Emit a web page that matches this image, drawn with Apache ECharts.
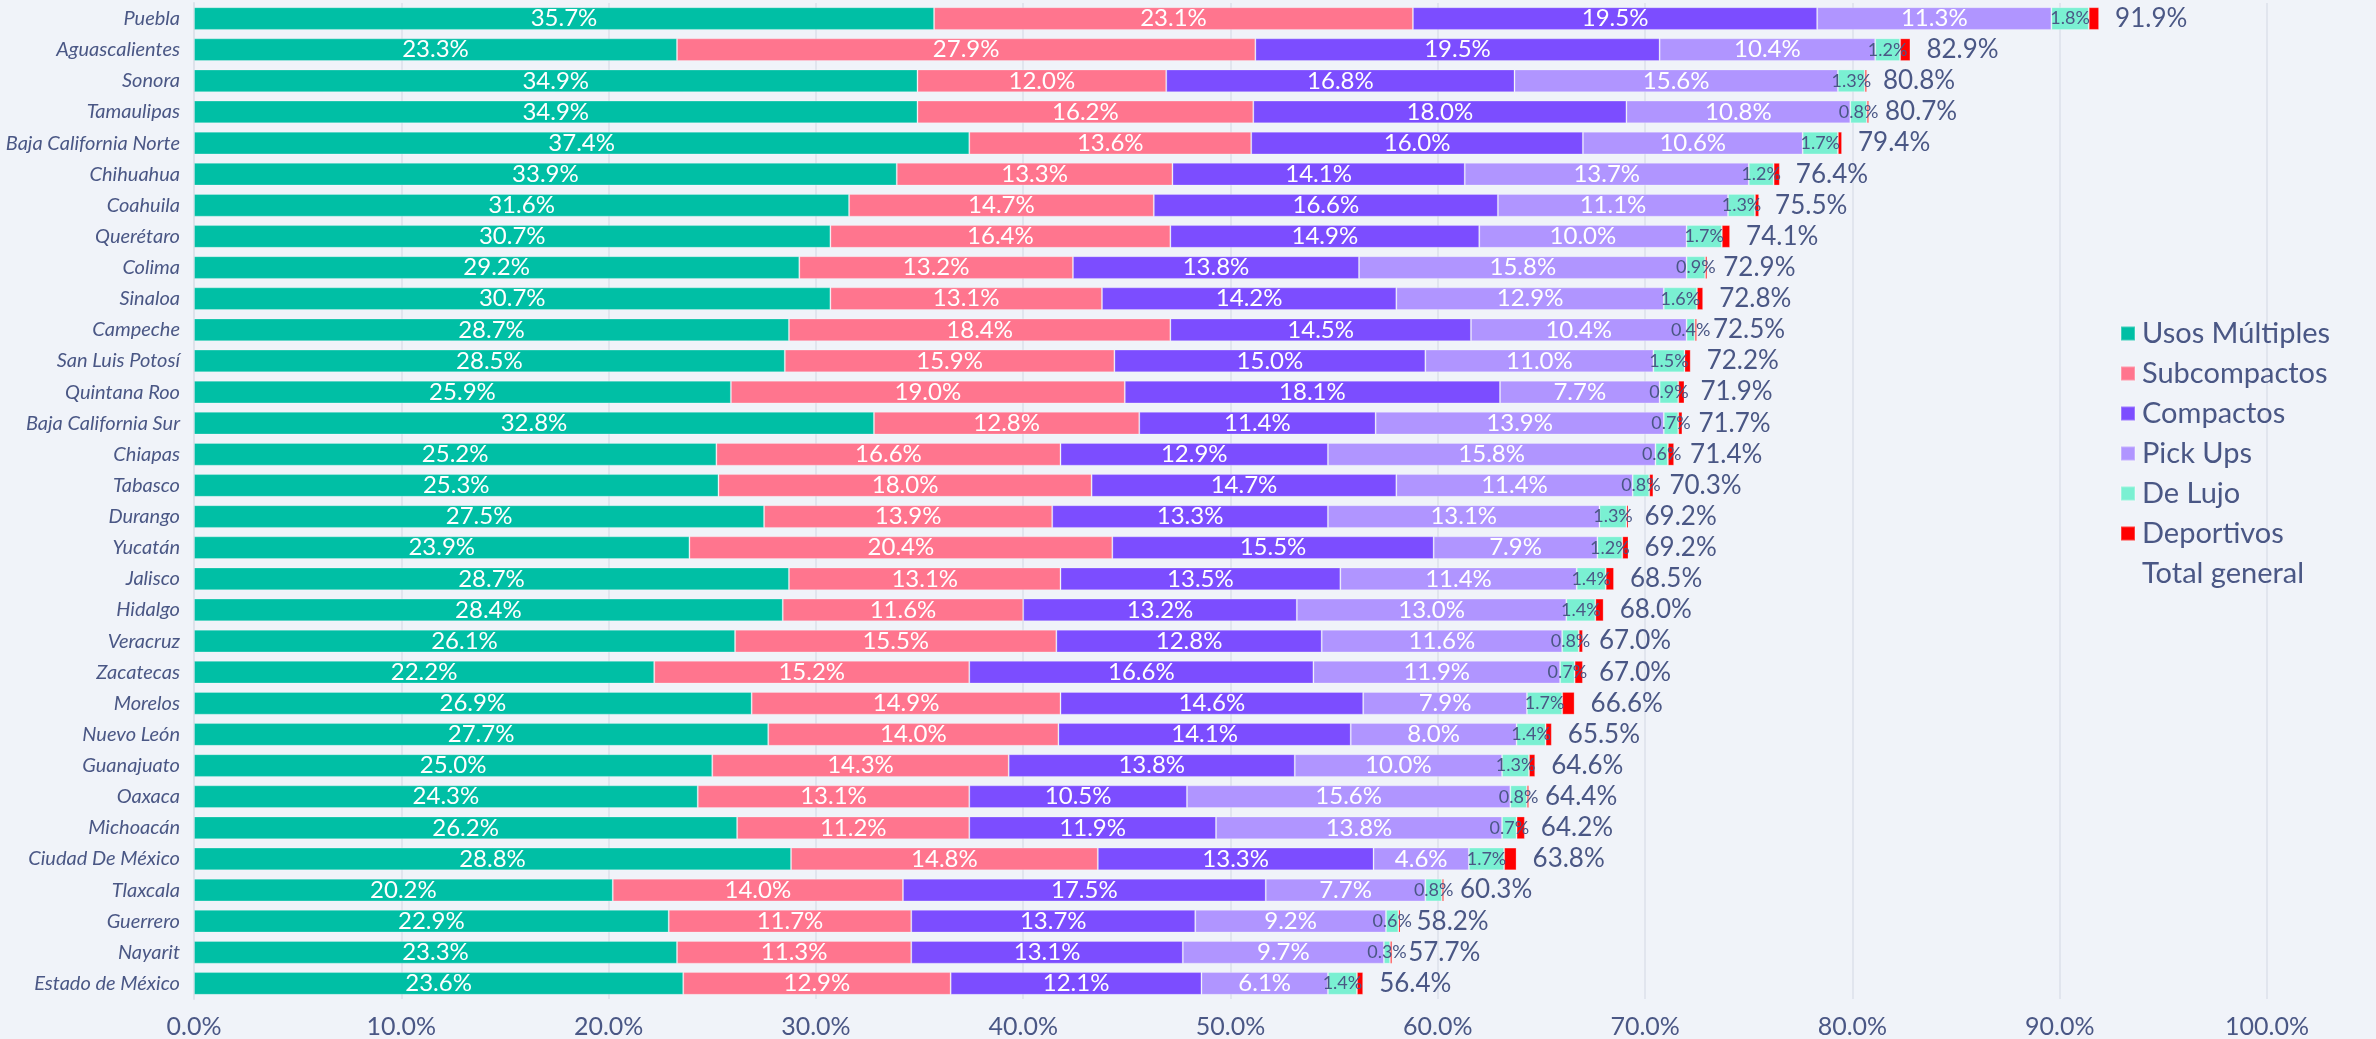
<!DOCTYPE html>
<html>
<head>
<meta charset="utf-8">
<script src="https://cdn.jsdelivr.net/npm/echarts@6/dist/echarts.min.js"></script>
<style>
  html, body { margin: 0; padding: 0; background: #f0f3f9; }
  #chart { width: 2376px; height: 1039px; }
</style>
</head>
<body>
<div id="chart"></div>
<script>
// estados, de arriba hacia abajo
const estados = ['Puebla', 'Aguascalientes', 'Sonora', 'Tamaulipas', 'Baja California Norte', 'Chihuahua',
  'Coahuila', 'Querétaro', 'Colima', 'Sinaloa', 'Campeche', 'San Luis Potosí', 'Quintana Roo',
  'Baja California Sur', 'Chiapas', 'Tabasco', 'Durango', 'Yucatán', 'Jalisco', 'Hidalgo', 'Veracruz',
  'Zacatecas', 'Morelos', 'Nuevo León', 'Guanajuato', 'Oaxaca', 'Michoacán', 'Ciudad De México',
  'Tlaxcala', 'Guerrero', 'Nayarit', 'Estado de México']

const usosMultiples = [35.7, 23.3, 34.9, 34.9, 37.4, 33.9, 31.6, 30.7, 29.2, 30.7, 28.7, 28.5, 25.9, 32.8, 25.2, 25.3,
  27.5, 23.9, 28.7, 28.4, 26.1, 22.2, 26.9, 27.7, 25.0, 24.3, 26.2, 28.8, 20.2, 22.9, 23.3, 23.6]
const subcompactos = [23.1, 27.9, 12.0, 16.2, 13.6, 13.3, 14.7, 16.4, 13.2, 13.1, 18.4, 15.9, 19.0, 12.8, 16.6, 18.0,
  13.9, 20.4, 13.1, 11.6, 15.5, 15.2, 14.9, 14.0, 14.3, 13.1, 11.2, 14.8, 14.0, 11.7, 11.3, 12.9]
const compactos = [19.5, 19.5, 16.8, 18.0, 16.0, 14.1, 16.6, 14.9, 13.8, 14.2, 14.5, 15.0, 18.1, 11.4, 12.9, 14.7,
  13.3, 15.5, 13.5, 13.2, 12.8, 16.6, 14.6, 14.1, 13.8, 10.5, 11.9, 13.3, 17.5, 13.7, 13.1, 12.1]
const pickUps = [11.3, 10.4, 15.6, 10.8, 10.6, 13.7, 11.1, 10.0, 15.8, 12.9, 10.4, 11.0, 7.7, 13.9, 15.8, 11.4,
  13.1, 7.9, 11.4, 13.0, 11.6, 11.9, 7.9, 8.0, 10.0, 15.6, 13.8, 4.6, 7.7, 9.2, 9.7, 6.1]
const deLujo = [1.8, 1.2, 1.3, 0.8, 1.7, 1.2, 1.3, 1.7, 0.9, 1.6, 0.4, 1.5, 0.9, 0.7, 0.6, 0.8,
  1.3, 1.2, 1.4, 1.4, 0.8, 0.7, 1.7, 1.4, 1.3, 0.8, 0.7, 1.7, 0.8, 0.6, 0.3, 1.4]
const deportivos = [0.5, 0.5, 0.1, 0.1, 0.2, 0.3, 0.2, 0.4, 0.1, 0.3, 0.1, 0.3, 0.3, 0.2, 0.3, 0.2,
  0.1, 0.3, 0.4, 0.4, 0.2, 0.4, 0.6, 0.3, 0.3, 0.1, 0.4, 0.6, 0.1, 0.1, 0.1, 0.3]
const totalGeneral = [91.9, 82.9, 80.8, 80.7, 79.4, 76.4, 75.5, 74.1, 72.9, 72.8, 72.5, 72.2, 71.9, 71.7, 71.4, 70.3,
  69.2, 69.2, 68.5, 68.0, 67.0, 67.0, 66.6, 65.5, 64.6, 64.4, 64.2, 63.8, 60.3, 58.2, 57.7, 56.4]

const textColor = '#4a5785'
const fontFamily = 'Lato, "Open Sans", sans-serif'

const pct = v => v.toFixed(1) + '%'

function barSerie (name, data, color, labelColor, labelSize) {
  return {
    name,
    type: 'bar',
    stack: 'total',
    barCategoryGap: '27%',
    itemStyle: {
      color,
      borderColor: 'rgba(255,255,255,0.25)',
      borderWidth: 1
    },
    label: {
      show: labelColor !== null,
      position: 'inside',
      color: labelColor,
      fontSize: labelSize,
      fontFamily,
      formatter: p => pct(p.value)
    },
    data
  }
}

const option = {
  backgroundColor: '#f0f3f9',
  animation: false,
  grid: { left: 194, right: 109, top: 3, bottom: 40 },
  legend: {
    orient: 'vertical',
    left: 2115,
    top: 314,
    itemWidth: 14,
    itemHeight: 14,
    itemGap: 11,
    icon: 'rect',
    textStyle: {
      color: textColor,
      fontSize: 29,
      fontFamily,
      lineHeight: 28,
      padding: [0, 0, 0, 2]
    },
    data: ['Usos Múltiples', 'Subcompactos', 'Compactos', 'Pick Ups', 'De Lujo', 'Deportivos', 'Total general']
  },
  xAxis: {
    type: 'value',
    min: 0,
    max: 100,
    interval: 10,
    axisLine: { show: false },
    axisTick: { show: false },
    splitLine: { lineStyle: { color: '#e1e5ee', width: 2 } },
    axisLabel: {
      color: textColor,
      fontSize: 25,
      fontFamily,
      margin: 15,
      formatter: v => pct(v)
    }
  },
  yAxis: {
    type: 'category',
    inverse: true,
    data: estados,
    axisLine: { lineStyle: { color: '#dde2ea', width: 2 } },
    axisTick: { length: 5, lineStyle: { color: '#dde2ea', width: 2 } },
    axisLabel: {
      color: textColor,
      fontSize: 20,
      fontStyle: 'italic',
      fontFamily,
      margin: 14
    }
  },
  series: [
    barSerie('Usos Múltiples', usosMultiples, '#00bfa5', '#ffffff', 24),
    barSerie('Subcompactos', subcompactos, '#ff758e', '#ffffff', 24),
    barSerie('Compactos', compactos, '#7c4dff', '#ffffff', 24),
    barSerie('Pick Ups', pickUps, '#b095ff', '#ffffff', 24),
    barSerie('De Lujo', deLujo, '#7af0d2', textColor, 18),
    barSerie('Deportivos', deportivos, '#ff0000', null, 18),
    {
      name: 'Total general',
      type: 'bar',
      stack: 'total',
      itemStyle: { color: 'transparent' },
      label: {
        show: true,
        position: 'right',
        distance: 16,
        color: textColor,
        fontSize: 26,
        fontFamily,
        formatter: p => pct(totalGeneral[p.dataIndex])
      },
      data: totalGeneral.map(() => 0)
    }
  ]
}

const chart = echarts.init(document.getElementById('chart'))
chart.setOption(option)
</script>
</body>
</html>
